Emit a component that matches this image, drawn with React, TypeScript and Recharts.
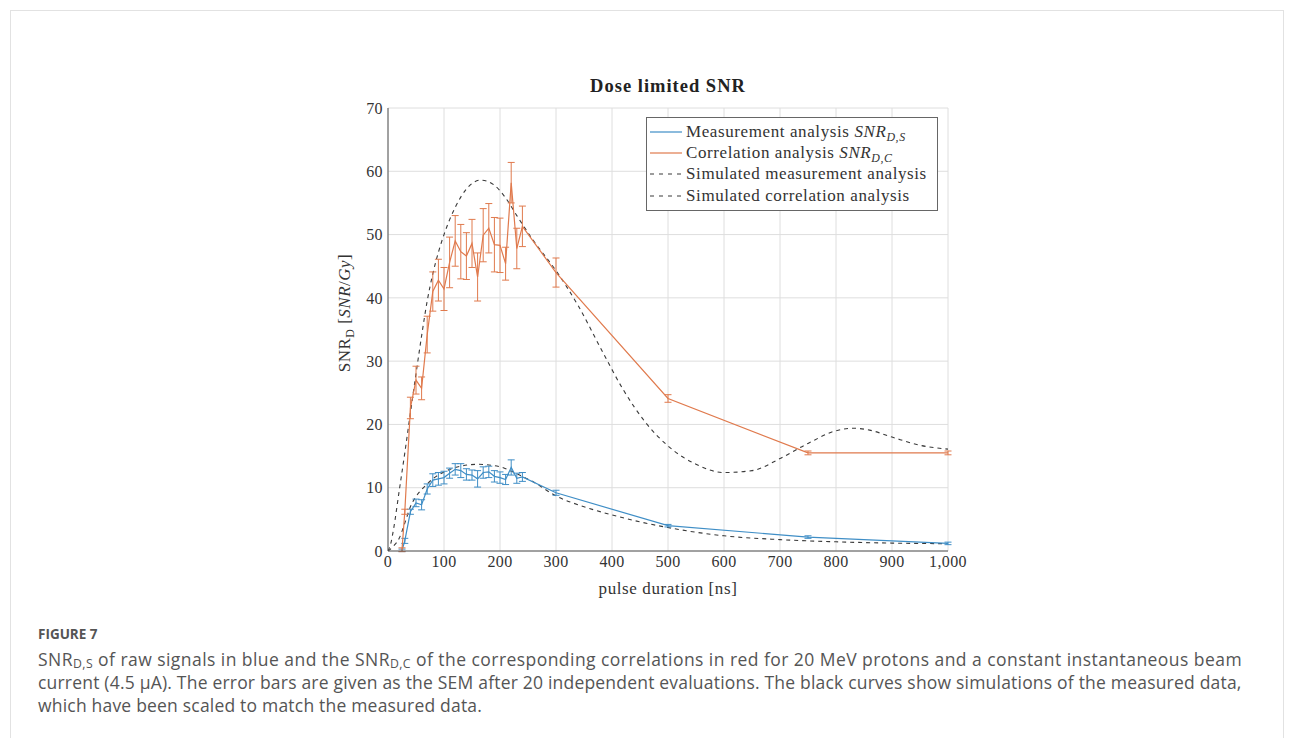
import React from "react";
import {
  LineChart,
  Line,
  XAxis,
  YAxis,
  CartesianGrid,
  ErrorBar,
} from "recharts";

// pulse duration [ns] of the measured points
const measuredX = [25, 30, 40, 50, 60, 70, 80, 90, 100, 110, 120, 130, 140, 150, 160, 170, 180, 190, 200, 210, 220, 230, 240, 300, 500, 750, 1000];

// correlation analysis SNR_D,C (red) and its SEM
const corrY = [0.2, 6.2, 22.6, 27, 25.7, 34.2, 41, 42.8, 41.4, 45.6, 49, 47.3, 46.6, 48.6, 43.3, 49.9, 51, 48.4, 48.3, 45.4, 58.2, 47.8, 51.3, 44, 24.1, 15.5, 15.5];
const corrErr = [0.3, 0.4, 1.7, 2.2, 1.8, 2.9, 3.1, 3.3, 3.4, 4, 4, 4.3, 3.7, 3.8, 3.8, 4.2, 3.9, 4.3, 4.3, 2.6, 3.2, 3.2, 3.2, 2.3, 0.6, 0.3, 0.3];

// measurement analysis SNR_D,S (blue) and its SEM
const measY = [0.1, 1.6, 6.2, 7.6, 7.3, 9.8, 11.2, 11.4, 11.6, 12.3, 12.9, 12.7, 12.1, 12, 11.4, 12.4, 12.5, 11.8, 11.6, 11.3, 13.2, 11.5, 11.7, 9.2, 4, 2.2, 1.2];
const measErr = [0.2, 0.4, 0.4, 0.6, 0.8, 0.8, 1, 1, 1, 0.8, 0.9, 1.1, 0.9, 0.8, 1.3, 0.9, 0.9, 0.9, 0.9, 0.8, 1.2, 0.8, 0.7, 0.4, 0.2, 0.2, 0.2];

// simulated curves (black dashed)
const simBigX = [0, 5, 10, 20, 30, 40, 50, 60, 70, 80, 90, 100, 120, 140, 165, 190, 210, 230, 260, 300, 340, 380, 420, 460, 500, 550, 600, 650, 700, 750, 800, 830, 860, 900, 950, 1000];
const simBigY = [0, 1.2, 3.5, 9.5, 15.5, 21.8, 28, 34, 39.5, 43.8, 47.2, 50, 54.3, 57.2, 58.6, 57.8, 55.8, 53, 49, 44.3, 38.7, 32, 25.5, 20.3, 16.6, 13.7, 12.4, 12.7, 14.6, 17, 19, 19.4, 19.1, 18, 16.7, 16.1];

const simSmallX = [0, 10, 20, 30, 40, 50, 60, 70, 80, 100, 130, 160, 200, 230, 260, 300, 350, 400, 450, 500, 600, 700, 800, 900, 1000];
const simSmallY = [0, 0.8, 2, 4.4, 7, 8.6, 9.7, 10.6, 11.4, 12.5, 13.4, 13.7, 13.3, 12.2, 10.9, 8.7, 7, 5.7, 4.6, 3.7, 2.4, 1.8, 1.45, 1.25, 1.15];

const xTicks = [0, 100, 200, 300, 400, 500, 600, 700, 800, 900, 1000];
const yTicks = [0, 10, 20, 30, 40, 50, 60, 70];

const BLUE = "#3f8ec6";
const RED = "#e07a4d";
const DASH = "#3a3a3a";
const SERIF = "'Liberation Serif', 'Times New Roman', serif";
const SANS = "'Open Sans', sans-serif";

const corrData = measuredX.map((x, i) => ({ x, y: corrY[i], err: corrErr[i] }));
const measData = measuredX.map((x, i) => ({ x, y: measY[i], err: measErr[i] }));
const simBig = simBigX.map((x, i) => ({ x, y: simBigY[i] }));
const simSmall = simSmallX.map((x, i) => ({ x, y: simSmallY[i] }));

const subStyle = { fontSize: "0.7em", lineHeight: 0 };
const capSub = { fontSize: "0.7em", lineHeight: 0, verticalAlign: "-0.15em" };

const Snr = ({ sub }: { sub: string }) => (
  <span style={{ fontStyle: "italic" }}>
    SNR<sub style={subStyle}>{sub}</sub>
  </span>
);

const legendRows = [
  { color: BLUE, dashed: false, label: <>Measurement analysis <Snr sub="D,S" /></> },
  { color: RED, dashed: false, label: <>Correlation analysis <Snr sub="D,C" /></> },
  { color: DASH, dashed: true, label: "Simulated measurement analysis" },
  { color: DASH, dashed: true, label: "Simulated correlation analysis" },
];

const tickStyle = { fontFamily: SERIF, fontSize: 16, fill: "#333", letterSpacing: 0.4 };

export default function App() {
  return (
    <div style={{ position: "absolute", left: 0, top: 0, width: 1293, height: 738, background: "#fff", overflow: "hidden" }}>
      <div style={{ position: "absolute", left: 10, top: 10, width: 1272, height: 760, border: "1px solid #e2e2e2" }} />

      <div style={{ position: "absolute", left: 300, top: 60, width: 680, height: 560 }}>
        <LineChart width={680} height={560} margin={{ top: 48, right: 32, bottom: 39, left: 28 }}>
          <CartesianGrid stroke="#dedede" strokeWidth={1} />
          <XAxis
            type="number"
            dataKey="x"
            domain={[0, 1000]}
            ticks={xTicks}
            allowDataOverflow
            tickFormatter={(v) => v.toLocaleString("en-US")}
            tickLine={false}
            tickSize={0}
            tickMargin={5}
            height={30}
            stroke="#555"
            tick={tickStyle}
          />
          <XAxis xAxisId="top" orientation="top" type="number" domain={[0, 1000]} height={0} tick={false} tickLine={false} stroke="#555" />
          <YAxis
            type="number"
            domain={[0, 70]}
            ticks={yTicks}
            allowDataOverflow
            tickLine={false}
            tickSize={0}
            tickMargin={5}
            width={60}
            stroke="#555"
            tick={tickStyle}
          />
          <YAxis yAxisId="right" orientation="right" domain={[0, 70]} width={0} tick={false} tickLine={false} stroke="#555" />

          <Line data={simBig} dataKey="y" type="monotone" stroke={DASH} strokeWidth={1.1} strokeDasharray="4 4" dot={false} isAnimationActive={false} />
          <Line data={simSmall} dataKey="y" type="monotone" stroke={DASH} strokeWidth={1.1} strokeDasharray="4 4" dot={false} isAnimationActive={false} />
          <Line data={measData} dataKey="y" type="linear" stroke={BLUE} strokeWidth={1.2} dot={false} isAnimationActive={false}>
            <ErrorBar dataKey="err" direction="y" width={3.5} stroke={BLUE} strokeWidth={1} />
          </Line>
          <Line data={corrData} dataKey="y" type="linear" stroke={RED} strokeWidth={1.2} dot={false} isAnimationActive={false}>
            <ErrorBar dataKey="err" direction="y" width={3.5} stroke={RED} strokeWidth={1} />
          </Line>
        </LineChart>
      </div>

      {/* title */}
      <div style={{ position: "absolute", left: 468, width: 400, top: 76, textAlign: "center", fontFamily: SERIF, fontWeight: "bold", fontSize: 18.5, letterSpacing: 1, color: "#222" }}>
        Dose limited SNR
      </div>

      {/* y label */}
      <div
        style={{
          position: "absolute",
          left: 345 - 100,
          top: 313 - 10,
          width: 200,
          height: 20,
          lineHeight: "20px",
          textAlign: "center",
          transform: "rotate(-90deg)",
          fontFamily: SERIF,
          fontSize: 17,
          letterSpacing: 0.5,
          color: "#333",
          whiteSpace: "nowrap",
        }}
      >
        SNR<sub style={subStyle}>D</sub> [<i>SNR</i>/<i>Gy</i>]
      </div>

      {/* x label */}
      <div style={{ position: "absolute", left: 468, width: 400, top: 579, textAlign: "center", fontFamily: SERIF, fontSize: 17, letterSpacing: 0.6, color: "#333" }}>
        pulse duration [ns]
      </div>

      {/* legend */}
      <div
        style={{
          position: "absolute",
          left: 646,
          top: 117,
          width: 292,
          height: 94,
          boxSizing: "border-box",
          border: "1px solid #666",
          background: "#fff",
          padding: "3px 0 0 3px",
          fontFamily: SERIF,
          fontSize: 17,
          letterSpacing: 0.6,
          color: "#333",
        }}
      >
        {legendRows.map((r, i) => (
          <div key={i} style={{ display: "flex", alignItems: "center", height: 21.3, whiteSpace: "nowrap" }}>
            <svg width={33} height={10} style={{ marginRight: 3 }}>
              <line x1={0} y1={5} x2={32} y2={5} stroke={r.color} strokeWidth={1.2} strokeDasharray={r.dashed ? "4 5" : undefined} />
            </svg>
            <span>{r.label}</span>
          </div>
        ))}
      </div>

      {/* caption */}
      <div style={{ position: "absolute", left: 38, top: 625, fontFamily: SANS, fontWeight: 700, fontSize: 13.5, color: "#555" }}>
        FIGURE 7
      </div>
      <div style={{ position: "absolute", left: 38, top: 648, fontFamily: SANS, fontSize: 17.5, letterSpacing: 0.2, lineHeight: "23px", color: "#555", whiteSpace: "nowrap" }}>
        <div style={{ height: 23, letterSpacing: 0.45 }}>
          SNR<span style={capSub}>D,S</span> of raw signals in blue and the SNR<span style={capSub}>D,C</span> of the corresponding correlations in red for 20 MeV protons and a constant instantaneous beam
        </div>
        <div style={{ height: 23 }}>
          current (4.5 µA). The error bars are given as the SEM after 20 independent evaluations. The black curves show simulations of the measured data,
        </div>
        <div style={{ height: 23 }}>which have been scaled to match the measured data.</div>
      </div>
    </div>
  );
}
